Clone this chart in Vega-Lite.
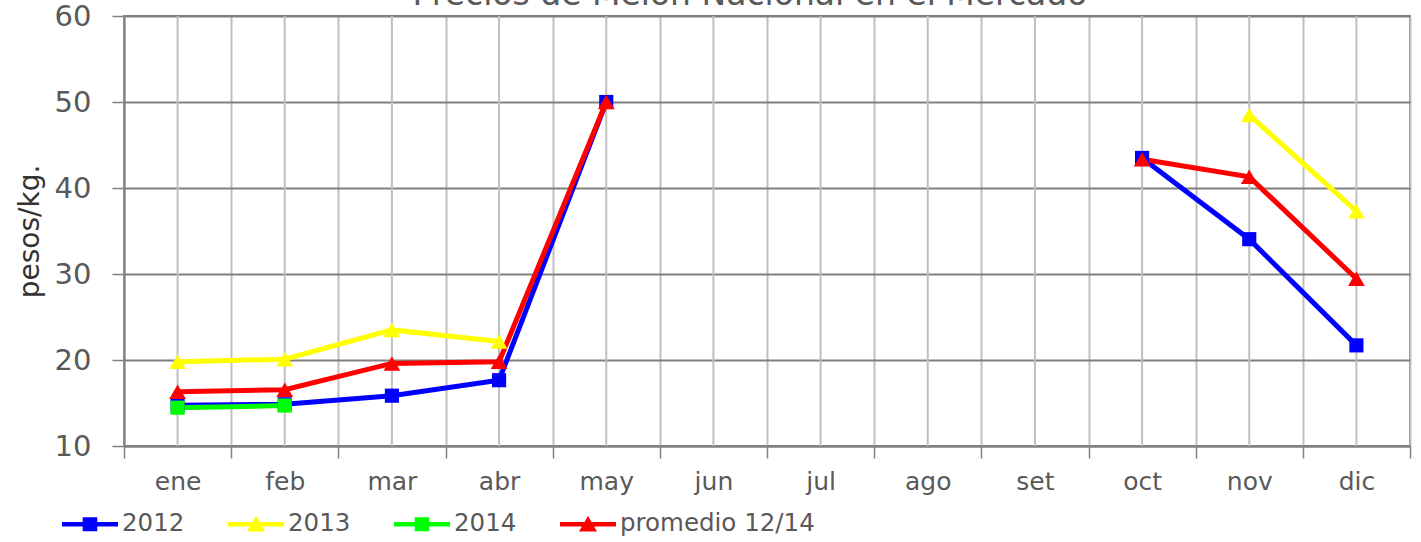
{
  "$schema": "https://vega.github.io/schema/vega-lite/v6.json",
  "autosize": {"type": "none"},
  "width": 1286,
  "height": 430,
  "padding": {"left": 124, "top": 16, "right": 11, "bottom": 96},
  "background": "white",
  "title": {
    "text": "Precios de Melón Nacional en el Mercado",
    "fontSize": 33,
    "fontWeight": "normal",
    "color": "#595959",
    "anchor": "middle",
    "frame": "group",
    "baseline": "alphabetic",
    "offset": 0,
    "dx": -17,
    "dy": 36
  },
  "config": {
    "font": "DejaVu Sans",
    "view": {"stroke": "#808080", "strokeWidth": 2}
  },
  "data": {
    "values": [
      {"mes": "ene", "serie": "2012", "precio": 14.75},
      {"mes": "feb", "serie": "2012", "precio": 14.85},
      {"mes": "mar", "serie": "2012", "precio": 15.85},
      {"mes": "abr", "serie": "2012", "precio": 17.65},
      {"mes": "may", "serie": "2012", "precio": 50.0},
      {"mes": "jun", "serie": "2012", "precio": null},
      {"mes": "jul", "serie": "2012", "precio": null},
      {"mes": "ago", "serie": "2012", "precio": null},
      {"mes": "set", "serie": "2012", "precio": null},
      {"mes": "oct", "serie": "2012", "precio": 43.5},
      {"mes": "nov", "serie": "2012", "precio": 34.05},
      {"mes": "dic", "serie": "2012", "precio": 21.7},
      {"mes": "ene", "serie": "2013", "precio": 19.8},
      {"mes": "feb", "serie": "2013", "precio": 20.1},
      {"mes": "mar", "serie": "2013", "precio": 23.5},
      {"mes": "abr", "serie": "2013", "precio": 22.15},
      {"mes": "may", "serie": "2013", "precio": null},
      {"mes": "jun", "serie": "2013", "precio": null},
      {"mes": "jul", "serie": "2013", "precio": null},
      {"mes": "ago", "serie": "2013", "precio": null},
      {"mes": "set", "serie": "2013", "precio": null},
      {"mes": "oct", "serie": "2013", "precio": null},
      {"mes": "nov", "serie": "2013", "precio": 48.5},
      {"mes": "dic", "serie": "2013", "precio": 37.3},
      {"mes": "ene", "serie": "2014", "precio": 14.45},
      {"mes": "feb", "serie": "2014", "precio": 14.7},
      {"mes": "mar", "serie": "2014", "precio": null},
      {"mes": "abr", "serie": "2014", "precio": null},
      {"mes": "may", "serie": "2014", "precio": null},
      {"mes": "jun", "serie": "2014", "precio": null},
      {"mes": "jul", "serie": "2014", "precio": null},
      {"mes": "ago", "serie": "2014", "precio": null},
      {"mes": "set", "serie": "2014", "precio": null},
      {"mes": "oct", "serie": "2014", "precio": null},
      {"mes": "nov", "serie": "2014", "precio": null},
      {"mes": "dic", "serie": "2014", "precio": null},
      {"mes": "ene", "serie": "promedio 12/14", "precio": 16.3},
      {"mes": "feb", "serie": "promedio 12/14", "precio": 16.55},
      {"mes": "mar", "serie": "promedio 12/14", "precio": 19.6},
      {"mes": "abr", "serie": "promedio 12/14", "precio": 19.8},
      {"mes": "may", "serie": "promedio 12/14", "precio": 50.0},
      {"mes": "jun", "serie": "promedio 12/14", "precio": null},
      {"mes": "jul", "serie": "promedio 12/14", "precio": null},
      {"mes": "ago", "serie": "promedio 12/14", "precio": null},
      {"mes": "set", "serie": "promedio 12/14", "precio": null},
      {"mes": "oct", "serie": "promedio 12/14", "precio": 43.35},
      {"mes": "nov", "serie": "promedio 12/14", "precio": 41.3},
      {"mes": "dic", "serie": "promedio 12/14", "precio": 29.45}
    ]
  },
  "encoding": {
    "x": {
      "field": "mes",
      "type": "ordinal",
      "sort": ["ene", "feb", "mar", "abr", "may", "jun", "jul", "ago", "set", "oct", "nov", "dic"],
      "scale": {"type": "band", "paddingInner": 0, "paddingOuter": 0},
      "axis": {
        "title": null,
        "tickBand": "extent",
        "grid": true,
        "gridColor": "#bfbfbf",
        "gridWidth": 2,
        "ticks": true,
        "tickSize": 12,
        "tickColor": "#808080",
        "tickWidth": 1.5,
        "domainColor": "#808080",
        "domainWidth": 2,
        "labelAngle": 0,
        "labelFontSize": 25,
        "labelColor": "#595959",
        "labelPadding": 11
      }
    }
  },
  "layer": [
    {
      "transform": [{"filter": "datum.serie == '2012'"}],
      "mark": {"type": "rule", "color": "#bfbfbf", "strokeWidth": 2},
      "encoding": {}
    },
    {
      "mark": {"type": "line", "strokeWidth": 5, "invalid": "break-paths-show-domains"},
      "encoding": {
        "y": {
          "field": "precio",
          "type": "quantitative",
          "scale": {"domain": [10, 60], "nice": false, "zero": false},
          "axis": {
            "values": [10, 20, 30, 40, 50, 60],
            "grid": true,
            "gridColor": "#808080",
            "gridWidth": 2,
            "tickSize": 12,
            "tickColor": "#808080",
            "tickWidth": 1.5,
            "domainColor": "#808080",
            "domainWidth": 2,
            "labelFontSize": 29,
            "labelColor": "#595959",
            "labelPadding": 21,
            "title": "pesos/kg.",
            "titleFontSize": 28,
            "titleFontWeight": "normal",
            "titleColor": "#333333",
            "titleX": -94,
            "titleY": 215,
            "titleAngle": -90,
            "titleAlign": "center",
            "titleBaseline": "middle"
          }
        },
        "color": {
          "field": "serie",
          "type": "nominal",
          "scale": {
            "domain": ["2012", "2013", "2014", "promedio 12/14"],
            "range": ["#0000ff", "#ffff00", "#00ff00", "#ff0000"]
          },
          "legend": {
            "title": null,
            "orient": "none",
            "direction": "horizontal",
            "columns": 4,
            "legendX": -62,
            "legendY": 480,
            "columnPadding": 43,
            "symbolSize": 3136,
            "symbolStrokeWidth": 0,
            "labelFontSize": 24.5,
            "labelColor": "#595959",
            "labelOffset": 4,
            "labelLimit": 400,
            "encode": {
              "symbols": {
                "update": {
                  "shape": {"signal": "(datum.value == '2013' || datum.value == 'promedio 12/14') ? 'M-1,-0.08H1V0.08H-1Z M0,-0.3L0.32,0.26L-0.32,0.26Z' : 'M-1,-0.08H1V0.08H-1Z M-0.26,-0.25H0.26V0.25H-0.26Z'"},
                  "fill": {"signal": "scale('color', datum.value)"},
                  "stroke": {"value": "transparent"},
                  "opacity": {"value": 1},
                  "fillOpacity": {"value": 1}
                }
              }
            }
          }
        }
      }
    },
    {
      "transform": [{"filter": "datum.serie == '2012' || datum.serie == '2014'"}],
      "mark": {"type": "point", "shape": "square", "filled": true, "opacity": 1, "size": 200, "invalid": "filter"},
      "encoding": {
        "y": {"field": "precio", "type": "quantitative"},
        "color": {"field": "serie", "type": "nominal"}
      }
    },
    {
      "transform": [{"filter": "datum.serie == '2013' || datum.serie == 'promedio 12/14'"}],
      "mark": {"type": "point", "shape": "triangle-up", "filled": true, "opacity": 1, "size": 280, "invalid": "filter"},
      "encoding": {
        "y": {"field": "precio", "type": "quantitative"},
        "color": {"field": "serie", "type": "nominal"}
      }
    }
  ]
}
